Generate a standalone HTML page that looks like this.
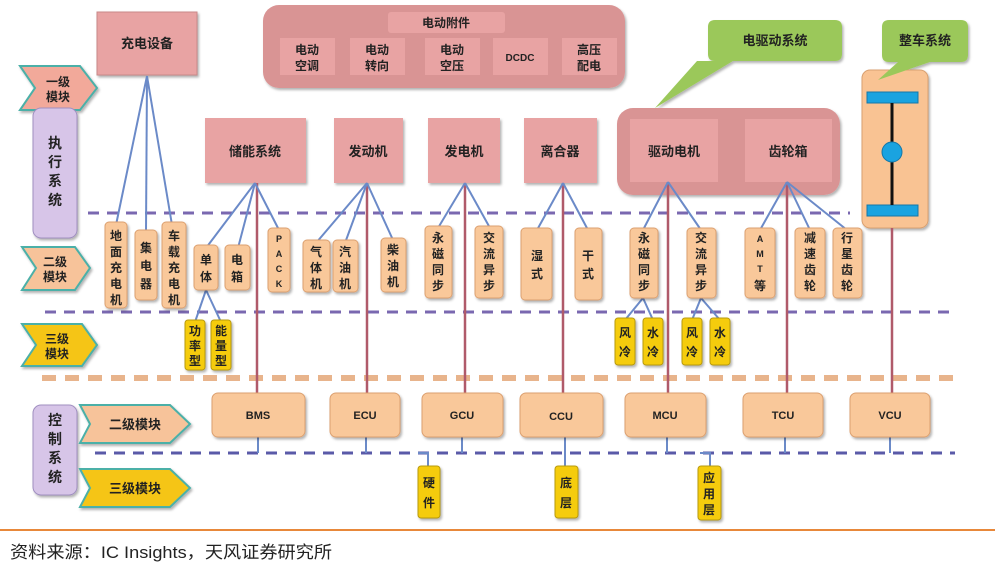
<!DOCTYPE html>
<html><head><meta charset="utf-8"><style>
body{margin:0;background:#fff;}
svg text{font-family:"Liberation Sans","Noto Sans CJK SC",sans-serif;font-weight:bold;fill:#222;}
</style></head><body>
<svg width="1003" height="565" viewBox="0 0 1003 565" xmlns="http://www.w3.org/2000/svg">
<defs>
<filter id="sh" x="-10%" y="-10%" width="130%" height="130%"><feDropShadow dx="1.5" dy="2" stdDeviation="1.2" flood-color="#000" flood-opacity="0.3"/></filter>
</defs>
<g filter="url(#sh)">
<rect x="97" y="12" width="100" height="63" fill="#e8a3a3" stroke="#c98888"/>
<rect x="263" y="5" width="362" height="83" rx="16" fill="#d99494"/>
<rect x="388" y="12" width="117" height="21" rx="3" fill="#e8a3a3"/>
<rect x="280" y="38" width="55" height="37" fill="#e8a3a3"/>
<rect x="350" y="38" width="55" height="37" fill="#e8a3a3"/>
<rect x="425" y="38" width="55" height="37" fill="#e8a3a3"/>
<rect x="493" y="38" width="55" height="37" fill="#e8a3a3"/>
<rect x="562" y="38" width="55" height="37" fill="#e8a3a3"/>
<rect x="205" y="118" width="101" height="65" fill="#e8a3a3"/>
<rect x="334" y="118" width="69" height="65" fill="#e8a3a3"/>
<rect x="428" y="118" width="72" height="65" fill="#e8a3a3"/>
<rect x="524" y="118" width="73" height="65" fill="#e8a3a3"/>
<rect x="617" y="108" width="223" height="87" rx="16" fill="#d99494"/>
<rect x="630" y="119" width="88" height="63" fill="#e8a3a3"/>
<rect x="745" y="119" width="87" height="63" fill="#e8a3a3"/>
<rect x="862" y="70" width="66" height="158" rx="8" fill="#f9c393" stroke="#d9a070"/>
<path d="M715 20 H835 Q842 20 842 27 V54 Q842 61 835 61 H733 L655 108 L697 61 H715 Q708 61 708 54 V27 Q708 20 715 20 Z" fill="#9bc85a"/>
<path d="M889 20 H961 Q968 20 968 27 V55 Q968 62 961 62 H930 L878 80 L898 62 H889 Q882 62 882 55 V27 Q882 20 889 20 Z" fill="#9bc85a"/>
</g>
<rect x="867" y="92" width="51" height="11" fill="#1aa3e0" stroke="#1577a8"/>
<rect x="867" y="205" width="51" height="11" fill="#1aa3e0" stroke="#1577a8"/>
<line x1="892" y1="103" x2="892" y2="205" stroke="#111" stroke-width="3"/>
<circle cx="892" cy="152" r="10" fill="#1aa3e0" stroke="#1577a8"/>

<g filter="url(#sh)">
<path d="M20 66 H80 L97 88 L80 110 H20 L35 88 Z" fill="#f2a99a" stroke="#4cb0a8" stroke-width="2"/>
<rect x="33" y="108" width="44" height="130" rx="8" fill="#d7c5e8" stroke="#a08fc0"/>
<path d="M22 247 H75 L90 268 L75 290 H22 L36 268 Z" fill="#f7c39a" stroke="#4cb0a8" stroke-width="2"/>
<path d="M22 324 H82 L97 345 L82 366 H22 L36 345 Z" fill="#f5c518" stroke="#4cb0a8" stroke-width="2"/>
<rect x="33" y="405" width="44" height="90" rx="8" fill="#d7c5e8" stroke="#a08fc0"/>
<path d="M80 405 H170 L190 424 L170 443 H80 L90 424 Z" fill="#f7c39a" stroke="#4cb0a8" stroke-width="2"/>
<path d="M80 469 H170 L190 488 L170 507 H80 L90 488 Z" fill="#f5c518" stroke="#4cb0a8" stroke-width="2"/>
</g>

<line x1="88" y1="213" x2="850" y2="213" stroke="#7a68b0" stroke-width="3" stroke-dasharray="11,8"/>
<line x1="45" y1="312" x2="955" y2="312" stroke="#7a68b0" stroke-width="3" stroke-dasharray="11,8"/>
<line x1="42" y1="378" x2="955" y2="378" stroke="#e8b48c" stroke-width="6" stroke-dasharray="14,9"/>
<line x1="95" y1="453" x2="955" y2="453" stroke="#5a5aa8" stroke-width="3" stroke-dasharray="11,8"/>

<g stroke="#b05a6a" stroke-width="2.5">
<line x1="257" y1="183" x2="257" y2="393"/>
<line x1="367" y1="183" x2="367" y2="393"/>
<line x1="465" y1="183" x2="465" y2="393"/>
<line x1="563" y1="183" x2="563" y2="393"/>
<line x1="668" y1="182" x2="668" y2="393"/>
<line x1="787" y1="182" x2="787" y2="393"/>
<line x1="892" y1="228" x2="892" y2="393"/>
</g>
<g stroke="#6b8ac8" stroke-width="2" fill="none">
<line x1="147" y1="76" x2="116" y2="225"/><line x1="147" y1="76" x2="146" y2="232"/><line x1="147" y1="76" x2="172" y2="225"/>
<line x1="255" y1="183" x2="206" y2="248"/><line x1="255" y1="183" x2="238" y2="248"/><line x1="255" y1="183" x2="279" y2="230"/>
<line x1="367" y1="183" x2="316" y2="243"/><line x1="367" y1="183" x2="345" y2="243"/><line x1="367" y1="183" x2="393" y2="240"/>
<line x1="465" y1="183" x2="438" y2="228"/><line x1="465" y1="183" x2="490" y2="228"/>
<line x1="563" y1="183" x2="537" y2="230"/><line x1="563" y1="183" x2="588" y2="230"/>
<line x1="668" y1="182" x2="643" y2="230"/><line x1="668" y1="182" x2="701" y2="230"/>
<line x1="787" y1="182" x2="760" y2="230"/><line x1="787" y1="182" x2="810" y2="230"/><line x1="787" y1="182" x2="847" y2="230"/>
<line x1="206" y1="290" x2="195" y2="322"/><line x1="206" y1="290" x2="221" y2="322"/>
<line x1="643" y1="298" x2="625" y2="320"/><line x1="643" y1="298" x2="653" y2="320"/>
<line x1="701" y1="298" x2="692" y2="320"/><line x1="701" y1="298" x2="720" y2="320"/>
<line x1="258" y1="437" x2="258" y2="453"/><line x1="366" y1="437" x2="366" y2="453"/><line x1="462" y1="437" x2="462" y2="453"/>
<line x1="565" y1="437" x2="565" y2="468"/><line x1="667" y1="437" x2="667" y2="453"/><line x1="785" y1="437" x2="785" y2="453"/><line x1="890" y1="437" x2="890" y2="453"/>
<polyline points="418,453 428,453 428,468"/><polyline points="700,453 710,453 710,468"/>
</g>

<g filter="url(#sh)" fill="#f9c89a" stroke="#dca070">
<rect x="105" y="222" width="22" height="86" rx="4"/>
<rect x="135" y="230" width="22" height="70" rx="4"/>
<rect x="162" y="222" width="24" height="86" rx="4"/>
<rect x="194" y="245" width="24" height="45" rx="4"/>
<rect x="225" y="245" width="25" height="45" rx="4"/>
<rect x="268" y="228" width="22" height="64" rx="4"/>
<rect x="303" y="240" width="27" height="52" rx="4"/>
<rect x="333" y="240" width="25" height="52" rx="4"/>
<rect x="381" y="238" width="25" height="54" rx="4"/>
<rect x="425" y="226" width="27" height="72" rx="4"/>
<rect x="475" y="226" width="28" height="72" rx="4"/>
<rect x="521" y="228" width="31" height="72" rx="4"/>
<rect x="575" y="228" width="27" height="72" rx="4"/>
<rect x="630" y="228" width="28" height="70" rx="4"/>
<rect x="687" y="228" width="29" height="70" rx="4"/>
<rect x="745" y="228" width="30" height="70" rx="4"/>
<rect x="795" y="228" width="30" height="70" rx="4"/>
<rect x="833" y="228" width="29" height="70" rx="4"/>
<rect x="212" y="393" width="93" height="44" rx="6"/>
<rect x="330" y="393" width="70" height="44" rx="6"/>
<rect x="422" y="393" width="81" height="44" rx="6"/>
<rect x="520" y="393" width="83" height="44" rx="6"/>
<rect x="625" y="393" width="81" height="44" rx="6"/>
<rect x="743" y="393" width="80" height="44" rx="6"/>
<rect x="850" y="393" width="80" height="44" rx="6"/>
</g>
<g filter="url(#sh)" fill="#f5cc10" stroke="#b89a10">
<rect x="185" y="320" width="20" height="50" rx="3"/>
<rect x="211" y="320" width="20" height="50" rx="3"/>
<rect x="615" y="318" width="20" height="47" rx="3"/>
<rect x="643" y="318" width="20" height="47" rx="3"/>
<rect x="682" y="318" width="20" height="47" rx="3"/>
<rect x="710" y="318" width="20" height="47" rx="3"/>
<rect x="418" y="466" width="22" height="52" rx="3"/>
<rect x="555" y="466" width="23" height="52" rx="3"/>
<rect x="698" y="466" width="23" height="54" rx="3"/>
</g>

<g font-size="13" text-anchor="middle">
<text x="147" y="48">充电设备</text>
<text x="446" y="27" font-size="12">电动附件</text>
<text x="307" y="54" font-size="12">电动</text><text x="307" y="70" font-size="12">空调</text>
<text x="377" y="54" font-size="12">电动</text><text x="377" y="70" font-size="12">转向</text>
<text x="452" y="54" font-size="12">电动</text><text x="452" y="70" font-size="12">空压</text>
<text x="520" y="61" font-size="10">DCDC</text>
<text x="589" y="54" font-size="12">高压</text><text x="589" y="70" font-size="12">配电</text>
<text x="255" y="156">储能系统</text>
<text x="368" y="156">发动机</text>
<text x="464" y="156">发电机</text>
<text x="560" y="156">离合器</text>
<text x="674" y="156">驱动电机</text>
<text x="788" y="156">齿轮箱</text>
<text x="775" y="45">电驱动系统</text>
<text x="925" y="45">整车系统</text>
<text x="58" y="86" font-size="12">一级</text><text x="58" y="101" font-size="12">模块</text>
<text x="55" y="148" font-size="14">执</text><text x="55" y="167" font-size="14">行</text><text x="55" y="186" font-size="14">系</text><text x="55" y="205" font-size="14">统</text>
<text x="55" y="266" font-size="12">二级</text><text x="55" y="281" font-size="12">模块</text>
<text x="57" y="343" font-size="12">三级</text><text x="57" y="358" font-size="12">模块</text>
<text x="55" y="425" font-size="14">控</text><text x="55" y="444" font-size="14">制</text><text x="55" y="463" font-size="14">系</text><text x="55" y="482" font-size="14">统</text>
<text x="135" y="429">二级模块</text>
<text x="135" y="493">三级模块</text>
</g>
<g font-size="12" text-anchor="middle">
<text x="116" y="240">地</text><text x="116" y="256">面</text><text x="116" y="272">充</text><text x="116" y="288">电</text><text x="116" y="304">机</text>
<text x="146" y="252">集</text><text x="146" y="270">电</text><text x="146" y="288">器</text>
<text x="174" y="240">车</text><text x="174" y="256">载</text><text x="174" y="272">充</text><text x="174" y="288">电</text><text x="174" y="304">机</text>
<text x="206" y="264">单</text><text x="206" y="281">体</text>
<text x="237" y="264">电</text><text x="237" y="281">箱</text>
<text x="279" y="242" font-size="9">P</text><text x="279" y="257" font-size="9">A</text><text x="279" y="272" font-size="9">C</text><text x="279" y="287" font-size="9">K</text>
<text x="316" y="256">气</text><text x="316" y="272">体</text><text x="316" y="288">机</text>
<text x="345" y="256">汽</text><text x="345" y="272">油</text><text x="345" y="288">机</text>
<text x="393" y="254">柴</text><text x="393" y="270">油</text><text x="393" y="286">机</text>
<text x="438" y="242">永</text><text x="438" y="258">磁</text><text x="438" y="274">同</text><text x="438" y="290">步</text>
<text x="489" y="242">交</text><text x="489" y="258">流</text><text x="489" y="274">异</text><text x="489" y="290">步</text>
<text x="537" y="260">湿</text><text x="537" y="278">式</text>
<text x="588" y="260">干</text><text x="588" y="278">式</text>
<text x="644" y="242">永</text><text x="644" y="258">磁</text><text x="644" y="274">同</text><text x="644" y="290">步</text>
<text x="701" y="242">交</text><text x="701" y="258">流</text><text x="701" y="274">异</text><text x="701" y="290">步</text>
<text x="760" y="242" font-size="9">A</text><text x="760" y="257" font-size="9">M</text><text x="760" y="272" font-size="9">T</text><text x="760" y="290">等</text>
<text x="810" y="242">减</text><text x="810" y="258">速</text><text x="810" y="274">齿</text><text x="810" y="290">轮</text>
<text x="847" y="242">行</text><text x="847" y="258">星</text><text x="847" y="274">齿</text><text x="847" y="290">轮</text>
<text x="195" y="335">功</text><text x="195" y="350">率</text><text x="195" y="365">型</text>
<text x="221" y="335">能</text><text x="221" y="350">量</text><text x="221" y="365">型</text>
<text x="625" y="337">风</text><text x="625" y="356">冷</text>
<text x="653" y="337">水</text><text x="653" y="356">冷</text>
<text x="692" y="337">风</text><text x="692" y="356">冷</text>
<text x="720" y="337">水</text><text x="720" y="356">冷</text>
<text x="429" y="487">硬</text><text x="429" y="507">件</text>
<text x="566" y="487">底</text><text x="566" y="507">层</text>
<text x="709" y="482">应</text><text x="709" y="498">用</text><text x="709" y="514">层</text>
</g>
<g font-size="11" text-anchor="middle">
<text x="258" y="419">BMS</text><text x="365" y="419">ECU</text><text x="462" y="419">GCU</text>
<text x="561" y="420">CCU</text><text x="665" y="419">MCU</text><text x="783" y="419">TCU</text><text x="890" y="419">VCU</text>
</g>
<line x1="0" y1="530" x2="995" y2="530" stroke="#e8883a" stroke-width="2"/>
<text x="10" y="558" font-size="17" textLength="322" lengthAdjust="spacingAndGlyphs" style="font-weight:normal" fill="#333">资料来源：IC Insights，天风证券研究所</text>
</svg>
</body></html>
